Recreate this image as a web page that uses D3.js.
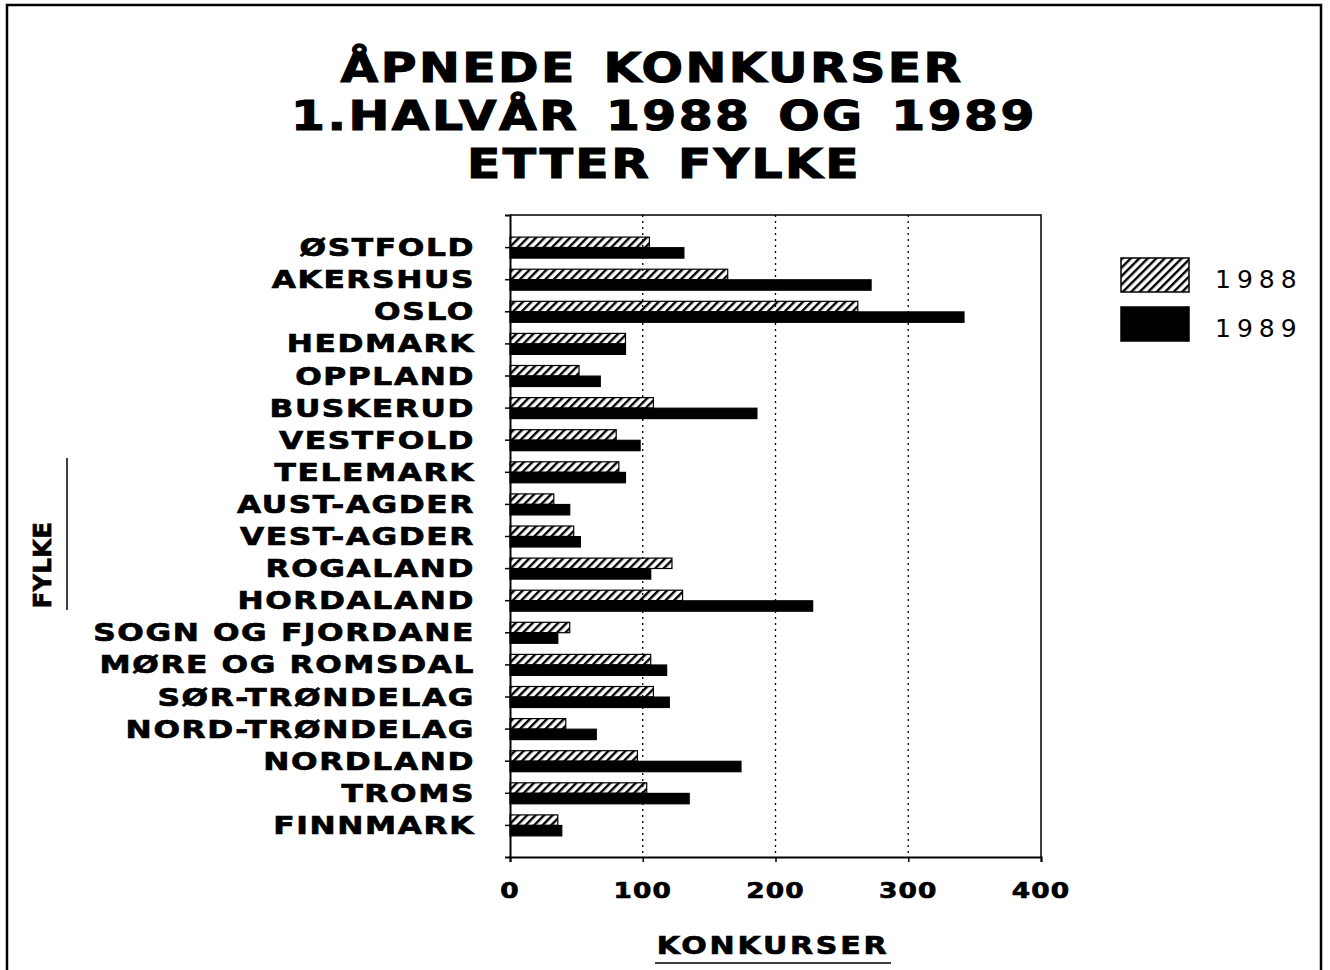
<!DOCTYPE html>
<html>
<head>
<meta charset="utf-8">
<script src="https://cdn.jsdelivr.net/npm/d3@7"></script>
<style>
  body { margin: 0; background: #fff; }
  svg text { font-family: "DejaVu Sans", sans-serif; fill: #000; }
  .heavy { stroke: #000; stroke-width: 0.7; }
</style>
</head>
<body>
<div id="chart"></div>
<script>
// fylker, top to bottom
const fylker = ["ØSTFOLD", "AKERSHUS", "OSLO", "HEDMARK", "OPPLAND", "BUSKERUD",
    "VESTFOLD", "TELEMARK", "AUST-AGDER", "VEST-AGDER", "ROGALAND", "HORDALAND",
    "SOGN OG FJORDANE", "MØRE OG ROMSDAL", "SØR-TRØNDELAG", "NORD-TRØNDELAG",
    "NORDLAND", "TROMS", "FINNMARK"];

// opened bankruptcies, first half year
const konk1988 = [105, 164, 262, 87, 52, 108, 80, 82, 33, 48, 122, 130, 45, 106, 108, 42, 96, 103, 36];
const konk1989 = [131, 272, 342, 87, 68, 186, 98, 87, 45, 53, 106, 228, 36, 118, 120, 65, 174, 135, 39];

const years = ["1988", "1989"];
const xTicks = [0, 100, 200, 300, 400];
const titleLines = ["ÅPNEDE KONKURSER", "1.HALVÅR 1988 OG 1989", "ETTER FYLKE"];

const W = 1330, H = 970;
const margin = {top: 215, right: 289, bottom: 113, left: 510};

const svg = d3.select("#chart").append("svg")
    .attr("width", W)
    .attr("height", H);

// hatch pattern for 1988
const defs = svg.append("defs");
defs.append("pattern")
    .attr("id", "hatch")
    .attr("patternUnits", "userSpaceOnUse")
    .attr("width", 6)
    .attr("height", 6)
    .attr("patternTransform", "rotate(45)")
    .append("rect")
    .attr("x", 0).attr("y", 0)
    .attr("width", 2.4).attr("height", 6)
    .attr("fill", "#000");

// outer frame (runs off the bottom of the page)
svg.append("path")
    .attr("d", `M7,${H + 10} V5 H1321 V${H + 10}`)
    .attr("fill", "none")
    .attr("stroke", "#000")
    .attr("stroke-width", 2.5);

// title
svg.append("g")
    .selectAll("text")
    .data(titleLines)
    .enter().append("text")
    .attr("class", "heavy")
    .attr("transform", (d, i) => `translate(${i === 0 ? 652 : 664}, ${82 + i * 48}) scale(1.22, 1)`)
    .attr("text-anchor", "middle")
    .attr("font-size", 40)
    .attr("font-weight", "bold")
    .attr("letter-spacing", 2)
    .attr("word-spacing", 6)
    .style("stroke-width", 1.1)
    .text(d => d);

// scales
const x = d3.scaleLinear()
    .domain([0, 400])
    .range([margin.left, W - margin.right]);

const y = d3.scalePoint()
    .domain(fylker)
    .range([margin.top, H - margin.bottom])
    .padding(1);

const sub = d3.scaleBand()
    .domain(years)
    .range([-10, 11])
    .paddingInner(0.02);

const rows = fylker.map((f, i) => ({fylke: f, v: [konk1988[i], konk1989[i]]}));

// dotted gridlines
svg.append("g")
    .selectAll("line")
    .data(xTicks.slice(1, 4))
    .enter().append("line")
    .attr("x1", d => x(d)).attr("x2", d => x(d))
    .attr("y1", margin.top).attr("y2", H - margin.bottom)
    .attr("stroke", "#000")
    .attr("stroke-width", 1.3)
    .attr("stroke-dasharray", "2,4");

// bars
const barGroup = svg.append("g");
years.forEach((yr, k) => {
    barGroup.selectAll(".bar" + yr)
        .data(rows)
        .enter().append("rect")
        .attr("class", "bar" + yr)
        .attr("x", x(0))
        .attr("y", d => y(d.fylke) + sub(yr))
        .attr("width", d => x(d.v[k]) - x(0))
        .attr("height", sub.bandwidth())
        .attr("fill", k === 0 ? "url(#hatch)" : "#000")
        .attr("stroke", "#000")
        .attr("stroke-width", 1.2);
});

// plot frame: top and right
svg.append("path")
    .attr("d", `M${x(0)},${margin.top} H${x(400)} V${H - margin.bottom}`)
    .attr("fill", "none")
    .attr("stroke", "#000")
    .attr("stroke-width", 1.5);

// y axis
const yAxis = svg.append("g")
    .attr("transform", `translate(${x(0)},0)`)
    .call(d3.axisLeft(y).tickSize(5));
yAxis.select(".domain").attr("stroke-width", 2);
yAxis.selectAll(".tick line").attr("stroke-width", 1.5);
yAxis.selectAll(".tick text").remove();

// category labels, widened
svg.append("g")
    .selectAll("text")
    .data(fylker)
    .enter().append("text")
    .attr("class", "heavy")
    .attr("transform", d => `translate(475, ${y(d) + 9}) scale(1.25, 1)`)
    .attr("text-anchor", "end")
    .attr("font-size", 25)
    .attr("font-weight", "bold")
    .attr("letter-spacing", 1.3)
    .text(d => d);

// x axis
const xAxis = svg.append("g")
    .attr("transform", `translate(0,${H - margin.bottom})`)
    .call(d3.axisBottom(x).tickValues(xTicks).tickSize(5).tickFormat(""));
xAxis.select(".domain").attr("stroke-width", 2);
xAxis.selectAll(".tick line").attr("stroke-width", 1.5);

svg.append("g")
    .selectAll("text")
    .data(xTicks)
    .enter().append("text")
    .attr("class", "heavy")
    .attr("transform", d => `translate(${x(d)}, 898) scale(1.2, 1)`)
    .attr("text-anchor", "middle")
    .attr("font-size", 22)
    .attr("font-weight", "bold")
    .attr("letter-spacing", 1)
    .text(d => d);

// x axis title, underlined
svg.append("text")
    .attr("class", "heavy")
    .attr("transform", "translate(773, 954) scale(1.25, 1)")
    .attr("text-anchor", "middle")
    .attr("font-size", 24)
    .attr("font-weight", "bold")
    .attr("letter-spacing", 2.2)
    .text("KONKURSER");
svg.append("line")
    .attr("x1", 655).attr("x2", 891)
    .attr("y1", 963).attr("y2", 963)
    .attr("stroke", "#000")
    .attr("stroke-width", 1.5);

// y axis title, rotated with its rule
svg.append("text")
    .attr("class", "heavy")
    .attr("transform", "translate(51, 565) rotate(-90)")
    .attr("text-anchor", "middle")
    .attr("font-size", 24)
    .attr("font-weight", "bold")
    .attr("letter-spacing", 0.5)
    .text("FYLKE");
svg.append("line")
    .attr("x1", 67).attr("x2", 67)
    .attr("y1", 458).attr("y2", 610)
    .attr("stroke", "#000")
    .attr("stroke-width", 1.5);

// legend
const legend = svg.append("g")
    .selectAll("g")
    .data(years)
    .enter().append("g")
    .attr("transform", (d, i) => `translate(1121, ${258 + i * 49})`);
legend.append("rect")
    .attr("width", 68)
    .attr("height", 34)
    .attr("fill", (d, i) => i === 0 ? "url(#hatch)" : "#000")
    .attr("stroke", "#000")
    .attr("stroke-width", 1.5);
legend.append("text")
    .attr("x", 94)
    .attr("y", 30)
    .attr("font-size", 25)
    .attr("letter-spacing", 6)
    .text(d => d);
</script>
</body>
</html>
